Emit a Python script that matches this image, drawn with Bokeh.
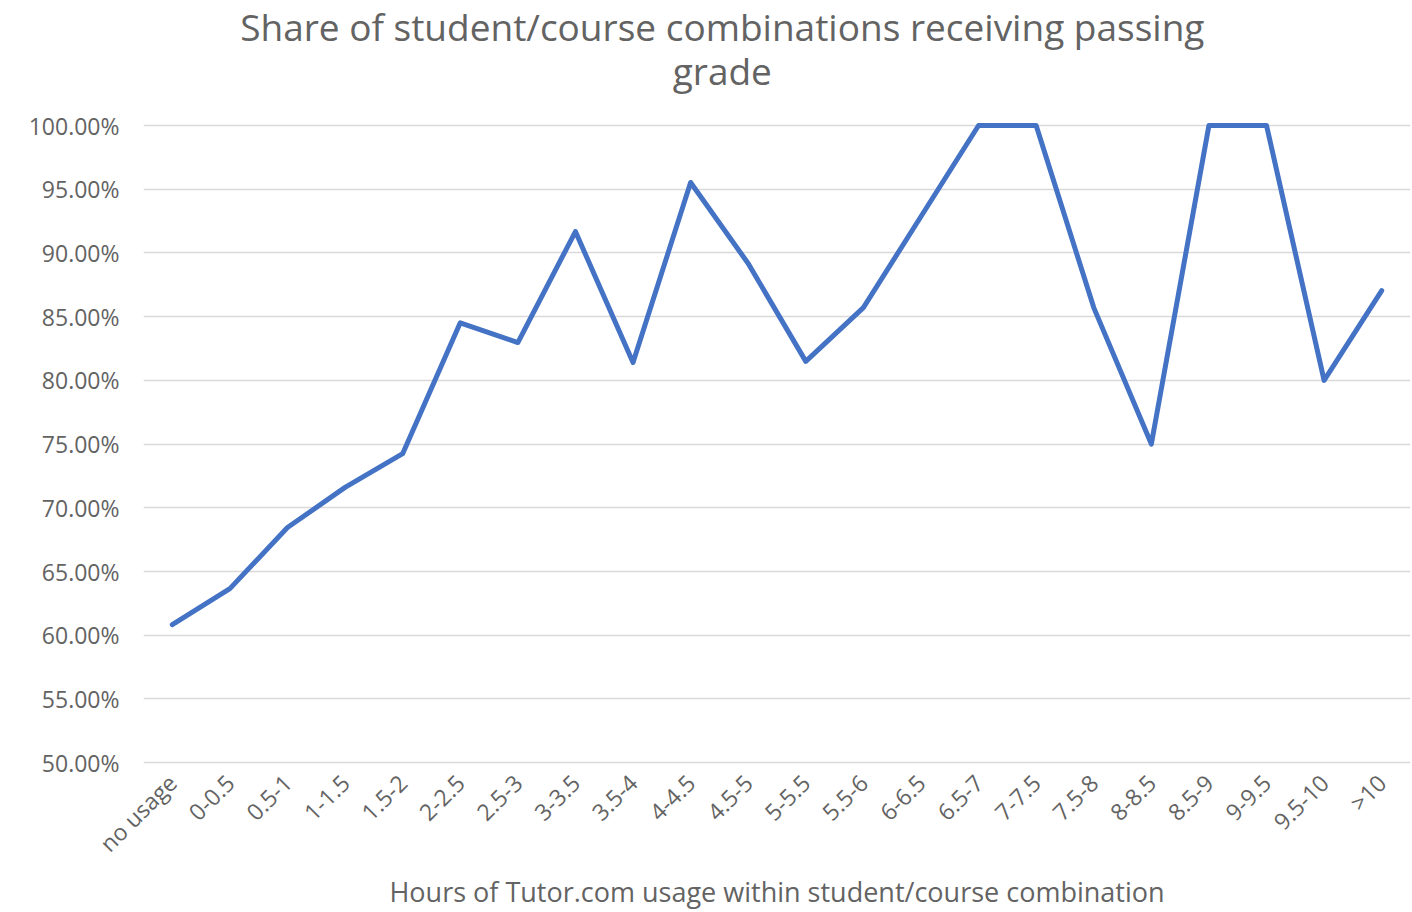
from bokeh.plotting import figure
from bokeh.models import FactorRange, Range1d, NumeralTickFormatter, FixedTicker, Label
from bokeh.embed import file_html
from bokeh.resources import INLINE

categories = ["no usage", "0-0.5", "0.5-1", "1-1.5", "1.5-2", "2-2.5", "2.5-3", "3-3.5",
              "3.5-4", "4-4.5", "4.5-5", "5-5.5", "5.5-6", "6-6.5", "6.5-7", "7-7.5",
              "7.5-8", "8-8.5", "8.5-9", "9-9.5", "9.5-10", ">10"]
share_passing = [0.6083, 0.6366, 0.6845, 0.7160, 0.7425, 0.8452, 0.8297, 0.9168,
                 0.8140, 0.9553, 0.8917, 0.8149, 0.8571, 0.9286, 1.0, 1.0,
                 0.8571, 0.75, 1.0, 1.0, 0.80, 0.8705]
y_ticks = [0.50, 0.55, 0.60, 0.65, 0.70, 0.75, 0.80, 0.85, 0.90, 0.95, 1.00]

title_lines = ["Share of student/course combinations receiving passing", "grade"]
x_title = "Hours of Tutor.com usage within student/course combination"

FONT = "Open Sans"
GRAY = "#636363"

p = figure(width=1412, height=912, output_backend="svg", toolbar_location=None,
           x_range=FactorRange(factors=categories, range_padding=0),
           y_range=Range1d(0.497, 1.0981),
           min_border_left=143, min_border_right=2, min_border_top=0, min_border_bottom=146)
p.outline_line_color = None
p.background_fill_color = "white"
p.border_fill_color = "white"

p.line(categories, share_passing, line_color="#4472C4", line_width=5,
       line_join="round", line_cap="round")

p.xgrid.grid_line_color = None
p.ygrid.grid_line_color = "#d9d9d9"
p.ygrid.grid_line_width = 1.5
p.yaxis.ticker = FixedTicker(ticks=y_ticks)
p.yaxis.formatter = NumeralTickFormatter(format="0.00%")

for ax in (p.xaxis[0], p.yaxis[0]):
    ax.axis_line_color = None
    ax.major_tick_line_color = None
    ax.minor_tick_line_color = None
    ax.major_label_text_color = GRAY
    ax.major_label_text_font = FONT
    ax.major_label_text_font_size = "23px"

p.yaxis.major_label_standoff = 18
p.xaxis.major_label_orientation = 0.7854
p.xaxis.major_label_standoff = 6
p.xaxis.axis_label = x_title
p.xaxis.axis_label_text_font = FONT
p.xaxis.axis_label_text_font_size = "27px"
p.xaxis.axis_label_text_font_style = "normal"
p.xaxis.axis_label_text_color = GRAY
p.xaxis.axis_label_standoff = 0

ys = [1.0777, 1.0432]
for t, yy in zip(title_lines, ys):
    p.add_layout(Label(x=10.05, y=yy, text=t, text_align="center", text_baseline="middle",
                       text_font=FONT, text_font_size="37px", text_color=GRAY))

open("out.html", "w").write(file_html(p, INLINE))
